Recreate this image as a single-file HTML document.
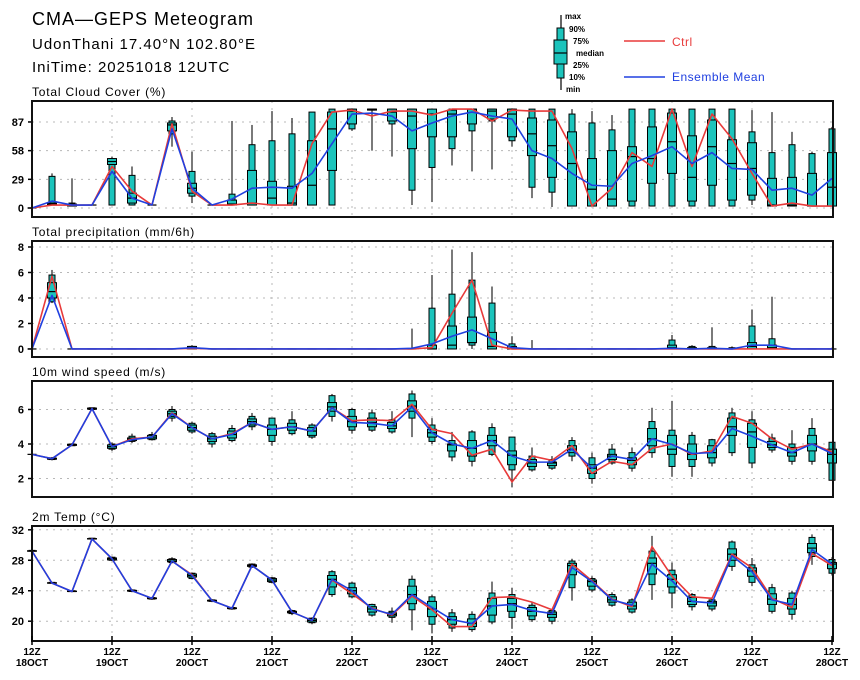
<!DOCTYPE html>
<html><head><meta charset="utf-8">
<style>
html,body{margin:0;padding:0;background:#fff;}
svg{display:block;font-family:"Liberation Sans",sans-serif;}
</style></head>
<body>
<svg id="chart" width="860" height="680" viewBox="0 0 860 680" xmlns="http://www.w3.org/2000/svg">
<rect x="0" y="0" width="860" height="680" fill="#fff"/>
<text x="32" y="25" font-size="18" letter-spacing="1">CMA—GEPS Meteogram</text>
<text x="32" y="49" font-size="15" letter-spacing="1">UdonThani 17.40°N 102.80°E</text>
<text x="32" y="72" font-size="15" letter-spacing="1">IniTime: 20251018 12UTC</text>
<g>
  <line x1="561" y1="15" x2="561" y2="90" stroke="#000" stroke-width="1.2"/>
  <rect x="557" y="28" width="7" height="50" fill="#1cc4bc" stroke="#000"/>
  <rect x="554" y="40" width="13" height="24" fill="#1cc4bc" stroke="#000"/>
  <line x1="554" y1="53" x2="567" y2="53" stroke="#000" stroke-width="1.2"/>
  <g font-size="8" font-weight="bold">
    <text x="565" y="19">max</text><text x="569" y="32">90%</text><text x="573" y="44">75%</text>
    <text x="576" y="56">median</text><text x="573" y="68">25%</text><text x="569" y="80">10%</text><text x="566" y="92">min</text>
  </g>
  <line x1="624" y1="41" x2="665" y2="41" stroke="#e83a3a" stroke-width="1.5"/>
  <text x="672" y="46" font-size="12" fill="#e83a3a" letter-spacing="0.5">Ctrl</text>
  <line x1="624" y1="77" x2="665" y2="77" stroke="#2040e0" stroke-width="1.5"/>
  <text x="672" y="81" font-size="12" fill="#2040e0" letter-spacing="0.5">Ensemble Mean</text>
</g>
<g id="panels"></g>
</svg>
<script>
// ---- Time axis ----
const dayLabels = ["18OCT","19OCT","20OCT","21OCT","22OCT","23OCT","24OCT","25OCT","26OCT","27OCT","28OCT"];
// ---- Cloud cover (%) ----
const cloudCtrl = [0,3,3,3,42,17,3,85,17,3, 3,5,3,3,65,97,99,93,98,98, 94,100,100,88,99,98,98,60,2,20, 56,42,100,42,95,70,35,2,5,2, 2];
const cloudMean = [0,7,3,3,37,10,3,80,20,3, 9,20,21,20,35,65,95,96,93,78, 86,93,97,93,90,58,50,35,23,22, 45,53,62,45,56,40,39,18,20,13, 30];
const cloudMin = [0,3,2,3,3,3,3,62,5,3, 3,3,3,3,3,3,78,58,52,3, 6,43,37,39,62,10,1,2,2,2, 2,2,2,2,2,2,3,2,2,2, 2];
const cloudP10 = [0,3,2,3,3,3,3,75,12,3, 3,3,3,3,3,3,80,99,85,18, 41,60,78,88,68,21,16,2,2,2, 2,2,2,2,2,2,8,2,2,2, 2];
const cloudP25 = [0,3,2,3,44,5,3,78,15,3, 3,3,3,3,3,38,85,99,88,60, 72,72,85,90,72,53,31,2,2,2, 7,25,35,7,23,8,13,2,2,2, 2];
const cloudMed = [0,4,3,3,47,10,3,84,20,3, 4,5,10,5,23,80,98,100,97,93, 95,95,100,98,95,75,63,45,19,9, 52,50,67,31,62,45,40,3,3,2, 21];
const cloudP75 = [0,5,4,3,50,15,3,86,25,3, 8,38,27,22,68,97,100,100,100,100, 100,99,100,100,100,91,89,77,50,58, 62,82,96,73,89,69,66,30,31,35, 56];
const cloudP90 = [0,32,5,3,50,33,3,88,37,3, 14,64,68,75,97,100,100,100,100,100, 99,100,100,100,100,100,100,95,86,79, 100,100,100,100,100,100,77,56,64,55, 80];
const cloudMax = [0,35,30,3,52,42,3,92,57,3, 88,84,98,91,97,100,100,100,100,100, 100,100,100,100,100,100,100,100,98,94, 100,100,100,100,100,100,99,97,77,57, 82];
const cloudTicks = [0,29,58,87];
// ---- Precipitation (mm/6h) ----
const prCtrl = [0,5.7,0,0,0,0,0,0,0.05,0, 0,0,0,0,0,0,0,0,0,0, 0.1,2.8,5.4,0.3,0,0,0,0,0,0, 0,0,0,0,0,0,0,0,0,0, 0];
const prMean = [0,4.2,0,0,0,0,0,0,0.1,0, 0,0,0,0,0,0,0,0,0,0.05, 0.4,1.0,1.5,0.8,0.1,0,0,0,0,0, 0,0,0.05,0,0.05,0,0.3,0.3,0,0, 0];
const prMin = [0,3.6,0,0,0,0,0,0,0,0, 0,0,0,0,0,0,0,0,0,0, 0,0,0,0,0,0,0,0,0,0, 0,0,0,0,0,0,0,0,0,0, 0];
const prP10 = [0,3.7,0,0,0,0,0,0,0,0, 0,0,0,0,0,0,0,0,0,0, 0,0,0.3,0,0,0,0,0,0,0, 0,0,0,0,0,0,0,0,0,0, 0];
const prP25 = [0,4.0,0,0,0,0,0,0,0,0, 0,0,0,0,0,0,0,0,0,0, 0,0,0.5,0,0,0,0,0,0,0, 0,0,0,0,0,0,0,0,0,0, 0];
const prMed = [0,4.5,0,0,0,0,0,0,0.1,0, 0,0,0,0,0,0,0,0,0,0, 0,0.3,0.5,0.2,0,0,0,0,0,0, 0,0,0.1,0,0,0,0.2,0.1,0,0, 0];
const prP75 = [0,5.2,0,0,0,0,0,0,0.2,0, 0,0,0,0,0,0,0,0,0,0, 0.3,1.8,2.5,1.3,0.2,0,0,0,0,0, 0,0,0.3,0.1,0.1,0,0.5,0.3,0,0, 0];
const prP90 = [0,5.8,0,0,0,0,0,0,0.2,0, 0,0,0,0,0,0,0,0,0,0, 3.2,4.3,5.4,3.6,0.4,0,0,0,0,0, 0,0,0.7,0.2,0.2,0.1,1.8,0.8,0,0, 0];
const prMax = [0,6.2,0,0,0,0,0,0,0.3,0, 0,0,0,0,0,0,0,0,0,1.6, 5.8,7.8,7.6,4.9,1.0,0.7,0,0,0,0, 0,0,1.1,0.3,1.7,0.2,3.1,4.1,0,0, 0.1];
const prTicks = [0,2,4,6,8];
// ---- Wind speed (m/s) ----
const wsCtrl = [3.4,3.15,3.95,6.05,3.85,4.3,4.4,5.8,4.95,4.3, 4.6,5.25,4.85,5.0,4.75,6.1,5.35,5.4,5.35,6.3, 4.85,4.6,3.35,3.7,1.8,3.3,3.05,3.9,2.3,3.0, 2.8,3.75,4.0,3.4,3.6,5.6,5.2,4.3,3.7,4.0, 3.55];
const wsMean = [3.4,3.15,3.95,6.05,3.85,4.25,4.4,5.75,4.95,4.3, 4.55,5.25,4.85,5.0,4.75,6.1,5.25,5.2,5.05,6.15, 4.65,4.0,3.75,4.2,3.3,2.95,2.95,3.7,2.6,3.3, 3.1,4.3,3.97,3.45,3.5,4.9,4.45,3.95,3.5,4.0, 3.45];
const wsMin = [3.4,3.05,3.9,5.95,3.6,4.05,4.2,5.3,4.6,3.8, 4.1,4.8,3.9,4.5,4.3,5.3,4.6,4.7,4.6,4.4, 4.0,3.0,2.7,3.3,1.5,2.4,2.5,3.0,1.7,2.8, 2.4,3.2,2.1,2.1,2.7,3.3,2.6,3.5,2.8,2.8, 1.9];
const wsP10 = [3.4,3.1,3.9,6.0,3.7,4.15,4.25,5.5,4.7,4.0, 4.2,5.0,4.15,4.6,4.4,5.6,4.8,4.8,4.7,5.5, 4.15,3.25,3.0,3.4,2.5,2.5,2.6,3.3,2.0,2.9, 2.6,3.5,2.7,2.7,2.9,3.5,2.9,3.65,3.0,3.0, 1.9];
const wsP25 = [3.4,3.12,3.92,6.02,3.75,4.2,4.3,5.6,4.8,4.15, 4.35,5.1,4.5,4.8,4.5,5.9,5.0,5.0,4.9,5.9, 4.4,3.6,3.3,3.9,2.8,2.7,2.75,3.5,2.3,3.1, 2.8,3.9,3.4,3.1,3.2,4.5,3.8,3.8,3.3,3.6, 2.9];
const wsMed = [3.4,3.15,3.95,6.05,3.85,4.28,4.4,5.75,4.95,4.3, 4.55,5.3,4.85,5.0,4.75,6.15,5.3,5.25,5.05,6.2, 4.65,3.95,3.75,4.2,3.35,2.9,2.9,3.7,2.6,3.3, 3.05,4.3,3.7,3.4,3.5,5.0,4.7,3.95,3.5,4.0, 3.4];
const wsP75 = [3.4,3.18,3.98,6.08,3.95,4.35,4.5,5.9,5.1,4.45, 4.75,5.45,5.1,5.2,4.95,6.4,5.6,5.5,5.25,6.5, 4.85,4.0,4.2,4.5,3.6,3.1,2.95,3.9,2.8,3.4, 3.2,4.9,4.5,4.0,3.9,5.5,5.2,4.15,3.8,4.5, 3.7];
const wsP90 = [3.4,3.2,4.0,6.1,4.0,4.45,4.55,6.0,5.2,4.6, 4.9,5.6,5.5,5.4,5.1,6.8,6.0,5.8,5.4,6.9, 5.1,4.2,4.7,4.95,4.4,3.3,3.1,4.2,3.2,3.7, 3.5,5.3,4.8,4.5,4.25,5.8,5.4,4.35,4.0,4.9, 4.1];
const wsMax = [3.4,3.25,4.05,6.1,4.1,4.6,4.7,6.2,5.3,4.7, 5.1,5.8,5.4,5.9,5.2,6.9,6.1,6.0,5.9,7.1, 5.5,4.7,4.8,5.2,4.4,3.8,3.3,4.4,3.5,4.0, 3.8,6.1,6.5,4.7,4.3,6.1,5.9,4.6,4.8,5.5, 4.1];
const wsTicks = [2,4,6];
// ---- 2m Temperature (°C) ----
const tCtrl = [29.2,25.0,23.9,30.8,28.2,24.0,23.0,27.9,26.1,22.7, 21.7,27.3,25.4,21.2,20.1,25.4,23.6,21.7,20.8,23.3, 21.5,19.3,19.3,23.1,23.2,22.5,21.5,27.5,25.3,22.9, 21.9,29.8,25.9,23.2,23.0,28.8,27.0,23.0,21.8,28.9, 27.3];
const tMean = [29.2,25.0,23.9,30.8,28.2,24.0,23.0,27.9,26.0,22.7, 21.7,27.3,25.4,21.2,20.1,25.5,24.0,21.6,20.9,23.5, 21.8,20.2,19.7,22.0,22.2,21.4,21.0,27.05,25.2,22.8, 22.1,27.5,25.3,22.6,22.4,28.6,26.5,22.8,22.2,29.4, 27.5];
const tMin = [29.1,24.9,23.8,30.7,27.9,23.8,22.8,27.6,25.5,22.5, 21.5,27.0,25.0,20.8,19.6,23.2,23.0,20.6,19.8,18.8, 18.4,18.6,18.6,19.6,19.0,19.9,19.6,22.7,23.8,21.9, 21.0,22.8,21.7,21.4,21.3,26.6,24.6,21.0,20.2,27.4, 26.0];
const tP10 = [29.2,25,23.9,30.8,28.0,23.9,22.9,27.7,25.6,22.6, 21.6,27.1,25.1,21.0,19.8,23.5,23.2,20.8,20.5,21.5, 19.6,19.1,18.9,19.9,20.5,20.2,20.0,24.4,24.1,22.1, 21.2,24.8,23.7,21.9,21.6,27.2,25.1,21.3,20.9,28.5, 26.3];
const tP25 = [29.2,25,23.9,30.8,28.05,23.95,22.95,27.8,25.8,22.65, 21.65,27.2,25.2,21.1,19.9,24.5,23.6,21.2,20.7,22.3, 20.6,19.6,19.3,20.8,21.3,20.7,20.5,26.1,24.6,22.5, 21.6,26.2,24.5,22.2,22.0,28.0,25.9,22.2,21.6,29.0, 26.9];
const tMed = [29.2,25,23.9,30.8,28.2,24,23,27.9,26,22.7, 21.7,27.3,25.4,21.2,20.1,25.5,24.0,21.6,20.9,23.5, 21.6,20.2,19.7,22.0,22.3,21.3,20.9,27.3,25.2,22.8, 22.0,27.6,25.5,22.6,22.4,28.8,26.6,22.9,22.2,29.6, 27.5];
const tP75 = [29.25,25.05,23.95,30.85,28.3,24.05,23.05,28.1,26.2,22.75, 21.75,27.4,25.6,21.3,20.3,26.0,24.4,21.9,21.1,24.6, 22.6,20.6,20.3,23.0,23.0,21.8,21.2,27.6,25.4,23.2, 22.5,28.3,26.1,23.1,22.6,29.5,27.0,23.6,23.0,30.2, 27.7];
const tP90 = [29.3,25.1,24.0,30.9,28.4,24.1,23.1,28.2,26.3,22.8, 21.8,27.5,25.7,21.4,20.4,26.5,25.0,22.2,21.3,25.5, 23.2,21.1,20.9,23.7,23.5,22.1,21.4,27.9,25.6,23.5, 22.8,29.2,26.7,23.5,22.8,30.4,27.4,24.4,23.7,31.0, 28.1];
const tMax = [29.3,25.1,24.0,30.9,28.5,24.2,23.2,28.4,26.4,22.9, 21.9,27.6,25.8,21.5,20.5,26.7,25.2,22.3,21.8,26.0, 23.5,21.6,21.3,25.2,24.4,22.5,21.6,28.2,25.9,23.8, 23.0,31.2,27.7,23.7,23.0,30.6,28.3,24.9,24.0,31.4, 28.4];
const tTicks = [20,24,28,32];

const NS = "http://www.w3.org/2000/svg";
const root = document.getElementById("panels");
const X0 = 32, XR = 833, STEP = 20;
function xs(i){ return X0 + i*STEP; }
function mk(tag, attrs, parent){
  const e = document.createElementNS(NS, tag);
  for (const k in attrs) e.setAttribute(k, attrs[k]);
  (parent||root).appendChild(e);
  return e;
}
const panels = [
  {key:"cloud", title:"Total Cloud Cover (%)", top:101, bottom:217, ymin:-9.1, ymax:108.2, ticks:cloudTicks,
   ctrl:cloudCtrl, mean:cloudMean, mn:cloudMin, p10:cloudP10, p25:cloudP25, med:cloudMed, p75:cloudP75, p90:cloudP90, mx:cloudMax},
  {key:"precip", title:"Total precipitation (mm/6h)", top:241, bottom:357, ymin:-0.63, ymax:8.47, ticks:prTicks,
   ctrl:prCtrl, mean:prMean, mn:prMin, p10:prP10, p25:prP25, med:prMed, p75:prP75, p90:prP90, mx:prMax},
  {key:"wind", title:"10m wind speed (m/s)", top:381, bottom:497, ymin:0.93, ymax:7.65, ticks:wsTicks,
   ctrl:wsCtrl, mean:wsMean, mn:wsMin, p10:wsP10, p25:wsP25, med:wsMed, p75:wsP75, p90:wsP90, mx:wsMax},
  {key:"temp", title:"2m Temp (°C)", top:526, bottom:641, ymin:17.4, ymax:32.5, ticks:tTicks,
   ctrl:tCtrl, mean:tMean, mn:tMin, p10:tP10, p25:tP25, med:tMed, p75:tP75, p90:tP90, mx:tMax}
];
panels.forEach((p, pi) => {
  const g = mk("g", {});
  
  
  const ys = v => p.bottom - (v - p.ymin) / (p.ymax - p.ymin) * (p.bottom - p.top);
  const t = mk("text", {x:X0, y:p.top-5, "font-size":12, "letter-spacing":"0.8"}, g);
  t.textContent = p.title;
  
  
  // grid
  p.ticks.forEach(v => {
    const y = ys(v);
    const gl = mk("line", {x1:X0, x2:XR, y1:y, y2:y, stroke:"#b8b8b8", "stroke-width":1, "stroke-dasharray":"2,5"}, g);
    
    
    const tk = mk("line", {x1:X0-4, x2:X0, y1:y, y2:y, stroke:"#000", "stroke-width":1.5}, g);
    
    
    const tl = mk("text", {x:X0-8, y:y+4, "font-size":11, "font-weight":"bold", "text-anchor":"end"}, g);
    tl.textContent = String(v);
    
    
  });
  dayLabels.forEach((d, di) => {
    const x = xs(di*4);
    if (di > 0 && di < dayLabels.length-1) {
      const vl = mk("line", {x1:x, x2:x, y1:p.top, y2:p.bottom, stroke:"#b8b8b8", "stroke-width":1, "stroke-dasharray":"2,5"}, g);
      
      
    }
  });
  // boxes
  p.med.forEach((m, i) => {
    const x = xs(i);
    const bg = mk("g", {}, g);
    
    
    mk("line", {x1:x, x2:x, y1:ys(p.mx[i]), y2:ys(p.mn[i]), stroke:"#222", "stroke-width":1.2}, bg);
    mk("rect", {x:x-3, y:ys(p.p90[i]), width:6, height:Math.max(0, ys(p.p10[i])-ys(p.p90[i])), fill:"#1cc4bc", stroke:"#000", "stroke-width":1}, bg);
    mk("rect", {x:x-4.5, y:ys(p.p75[i]), width:9, height:Math.max(0, ys(p.p25[i])-ys(p.p75[i])), fill:"#1cc4bc", stroke:"#000", "stroke-width":1}, bg);
    mk("line", {x1:x-4.5, x2:x+4.5, y1:ys(m), y2:ys(m), stroke:"#000", "stroke-width":1.2}, bg);
  });
  const line = (arr, col, name) => {
    const pl = mk("polyline", {points: arr.map((v,i)=>xs(i)+","+ys(v)).join(" "), fill:"none", stroke:col, "stroke-width":1.6, "stroke-linejoin":"round"}, g);
    
    
  };
  line(p.ctrl, "#e83a3a", p.key + '-ctrl-line');
  line(p.mean, "#2040e0", p.key + '-mean-line');
  const fr = mk("rect", {x:X0, y:p.top, width:XR-X0, height:p.bottom-p.top, fill:"none", stroke:"#111", "stroke-width":2}, g);
  
  
  if (pi === panels.length-1) {
    dayLabels.forEach((d, di) => {
      const x = xs(di*4);
      const tk = mk("line", {x1:x, x2:x, y1:p.bottom-5, y2:p.bottom+4, stroke:"#000", "stroke-width":1.5}, g);
      
      
      const t1 = mk("text", {x:x, y:p.bottom+14, "font-size":10, "font-weight":"bold", "text-anchor":"middle"}, g);
      t1.textContent = "12Z";
      
      
      const t2 = mk("text", {x:x, y:p.bottom+25, "font-size":10, "font-weight":"bold", "text-anchor":"middle"}, g);
      t2.textContent = d;
      
      
    });
  }
});
</script>
</body></html>
